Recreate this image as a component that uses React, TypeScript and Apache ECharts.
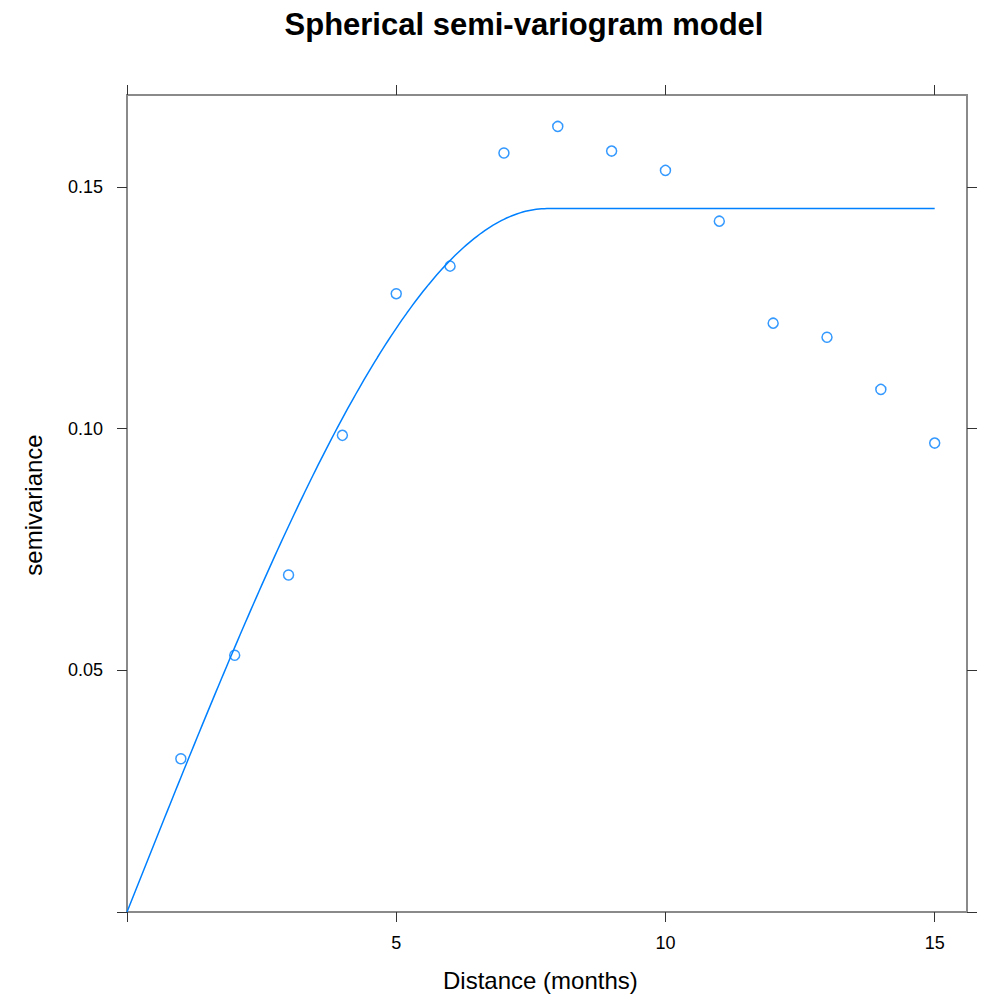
import React, { useEffect, useRef } from "react";
import * as echarts from "echarts";

// Empirical semivariogram (lag distance in months, semivariance)
const lags = [1, 2, 3, 4, 5, 6, 7, 8, 9, 10, 11, 12, 13, 14, 15];
const semivariance = [
  0.0317, 0.0531, 0.0697, 0.0986, 0.1279, 0.1336, 0.157, 0.1625, 0.1574,
  0.1534, 0.1429, 0.1218, 0.1189, 0.1081, 0.097,
];

// Fitted spherical model parameters
const modelNugget = 0;
const modelSill = 0.1455;
const modelRange = 7.8;
const modelMaxLag = 15;

const xTicks = [0, 5, 10, 15];
const xLabels = [5, 10, 15];
const yTicks = [0, 0.05, 0.1, 0.15];
const yLabels = [0.05, 0.1, 0.15];

const BLUE = "#0080ff";
const FONT = "'Liberation Sans', Arial, Helvetica, sans-serif";

function spherical(h: number): number {
  if (h <= 0) return modelNugget;
  if (h >= modelRange) return modelNugget + modelSill;
  const r = h / modelRange;
  return modelNugget + modelSill * (1.5 * r - 0.5 * r * r * r);
}

function modelCurve(): number[][] {
  const pts: number[][] = [];
  const n = 300;
  for (let i = 0; i <= n; i++) {
    const h = (modelMaxLag * i) / n;
    pts.push([h, spherical(h)]);
  }
  pts.push([modelRange, spherical(modelRange)]);
  pts.sort((a, b) => a[0] - b[0]);
  return pts;
}

export default function App() {
  const ref = useRef<HTMLDivElement>(null);

  useEffect(() => {
    if (!ref.current) return;
    const chart = echarts.init(ref.current, undefined, { renderer: "svg" });

    const tickStyle = { show: true, inside: false, length: 10, lineStyle: { color: "#333", width: 1 } };
    const baseX = {
      type: "value" as const,
      min: 0,
      max: 15.6,
      interval: 5,
      splitLine: { show: false },
      axisLine: { show: false, onZero: false },
    };
    const baseY = {
      type: "value" as const,
      min: 0,
      max: 0.169,
      interval: 0.05,
      splitLine: { show: false },
      axisLine: { show: false, onZero: false },
    };

    chart.setOption({
      animation: false,
      backgroundColor: "#ffffff",
      title: {
        text: "Spherical semi-variogram model",
        left: 519,
        textAlign: "center",
        top: 4,
        textStyle: { fontFamily: FONT, fontSize: 31, fontWeight: "bold", color: "#000" },
      },
      grid: {
        left: 127,
        right: 17,
        top: 95,
        bottom: 89,
        show: true,
        borderColor: "#8a8a8a",
        borderWidth: 2,
        backgroundColor: "transparent",
        containLabel: false,
        outerBoundsMode: "none",
      },
      xAxis: [
        {
          ...baseX,
          position: "bottom",
          axisTick: { ...tickStyle, customValues: xTicks },
          axisLabel: {
            show: true,
            customValues: xLabels,
            margin: 22,
            fontFamily: FONT,
            fontSize: 18,
            color: "#000",
          },
        },
        {
          ...baseX,
          position: "top",
          axisTick: { ...tickStyle, customValues: xTicks },
          axisLabel: { show: false },
        },
      ],
      yAxis: [
        {
          ...baseY,
          position: "left",
          axisTick: { ...tickStyle, customValues: yTicks },
          axisLabel: {
            show: true,
            customValues: yLabels,
            margin: 24,
            fontFamily: FONT,
            fontSize: 18,
            color: "#000",
            formatter: (v: number) => v.toFixed(2),
          },
        },
        {
          ...baseY,
          position: "right",
          axisTick: { ...tickStyle, customValues: yTicks },
          axisLabel: { show: false },
        },
      ],
      graphic: [
        {
          type: "text",
          left: 443,
          top: 968,
          style: {
            text: "Distance (months)",
            fontFamily: FONT,
            fontSize: 24,
            fill: "#000",
          },
        },
        {
          type: "text",
          x: 33,
          y: 505,
          rotation: Math.PI / 2,
          style: {
            text: "semivariance",
            fontFamily: FONT,
            fontSize: 24,
            fill: "#000",
            align: "center",
            verticalAlign: "middle",
          },
        },
      ],
      series: [
        {
          type: "line",
          name: "model",
          xAxisIndex: 1,
          yAxisIndex: 1,
          data: modelCurve(),
          showSymbol: false,
          symbol: "none",
          lineStyle: { color: BLUE, width: 1.5 },
          silent: true,
          clip: true,
        },
        {
          type: "scatter",
          name: "empirical",
          xAxisIndex: 0,
          yAxisIndex: 0,
          data: lags.map((x, i) => [x, semivariance[i]]),
          symbol: "circle",
          symbolSize: 10,
          itemStyle: { color: "transparent", borderColor: BLUE, borderWidth: 1.5 },
        },
      ],
    });

    return () => chart.dispose();
  }, []);

  return <div ref={ref} style={{ width: 984, height: 1001, position: "absolute", left: 0, top: 0 }} />;
}
